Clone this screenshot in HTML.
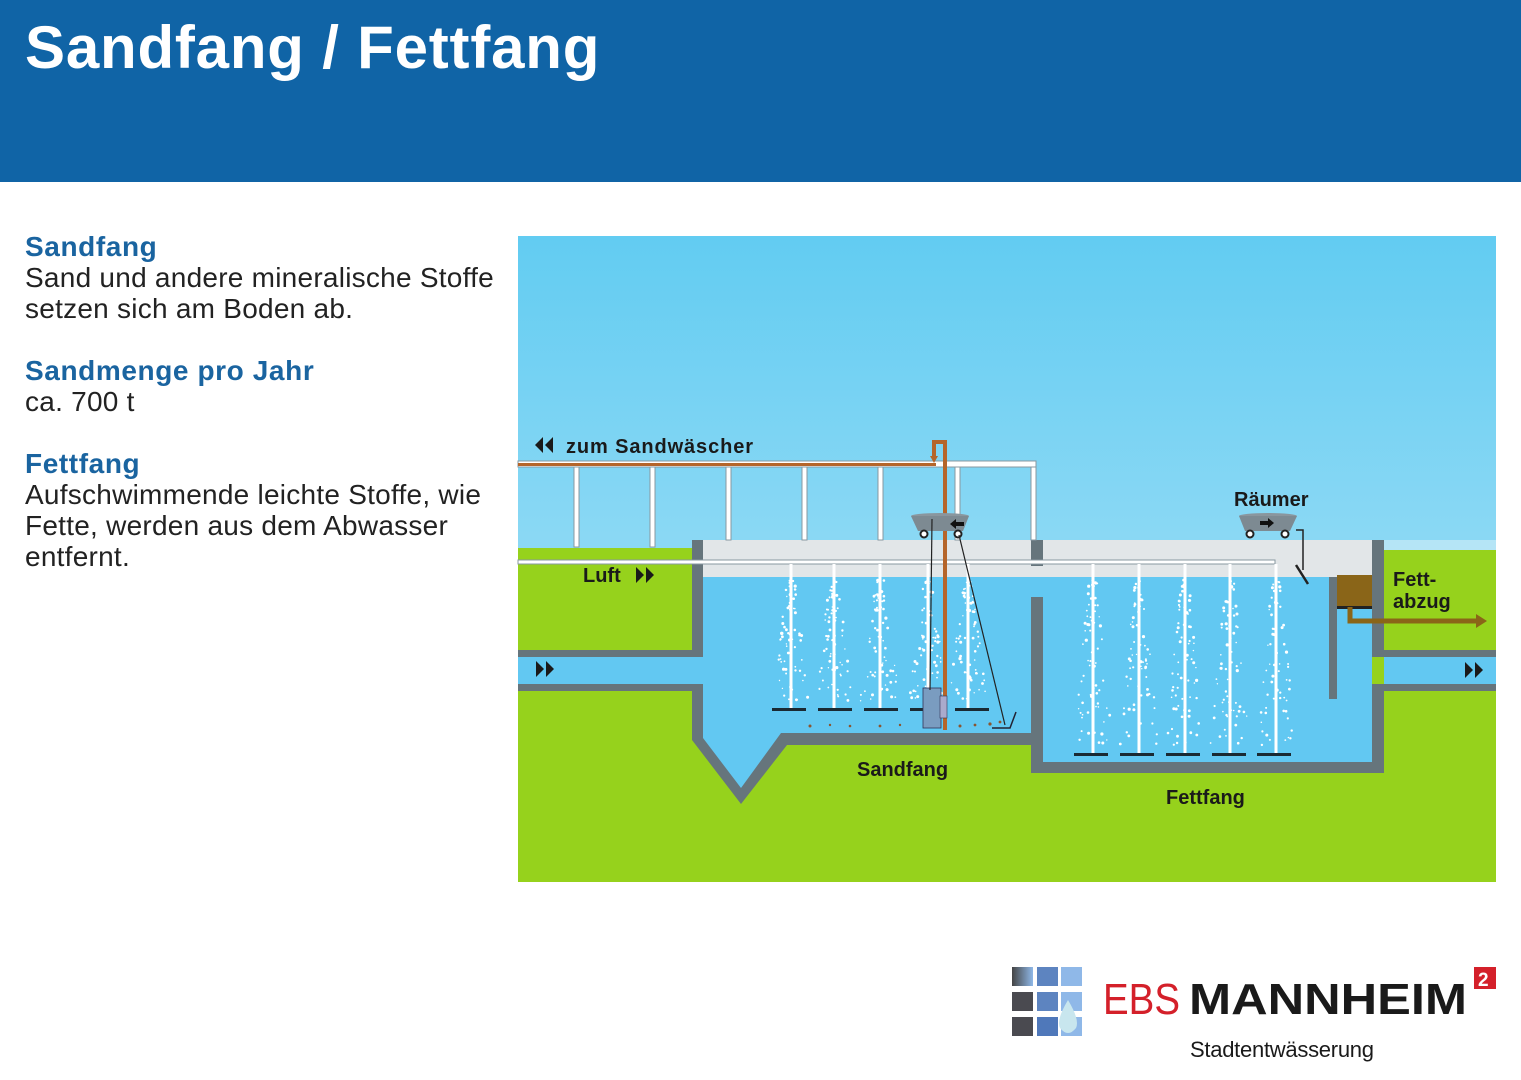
<!DOCTYPE html>
<html><head><meta charset="utf-8"><style>
html,body{margin:0;padding:0;width:1521px;height:1080px;overflow:hidden;background:#fff;font-family:"Liberation Sans",sans-serif}
#hdr{position:absolute;left:0;top:0;width:1521px;height:182px;background:#1064a6}
#hdr h1{position:absolute;left:25px;top:13px;margin:0;color:#fff;font-size:60px;font-weight:bold;letter-spacing:0.8px}
#txt{position:absolute;left:25px;top:231px;font-size:28px;line-height:31px;color:#222;letter-spacing:0.25px}
#txt b{color:#1a64a0;font-size:28px;letter-spacing:0.6px}
#dia{position:absolute;left:0;top:0}
</style></head><body>
<div id="hdr"><h1>Sandfang / Fettfang</h1></div>
<div id="txt"><b>Sandfang</b><br>Sand und andere mineralische Stoffe<br>setzen sich am Boden ab.<br><br><b>Sandmenge pro Jahr</b><br>ca. 700 t<br><br><b>Fettfang</b><br>Aufschwimmende leichte Stoffe, wie<br>Fette, werden aus dem Abwasser<br>entfernt.</div>
<svg id="dia" width="1521" height="1080" xmlns="http://www.w3.org/2000/svg" font-family="Liberation Sans, sans-serif">
<defs><linearGradient id="sky" x1="0" y1="0" x2="0" y2="1"><stop offset="0" stop-color="#62ccf2"/><stop offset="1" stop-color="#b8e6f6"/></linearGradient>
<linearGradient id="lg" x1="0" y1="0" x2="1" y2="0"><stop offset="0" stop-color="#444"/><stop offset="1" stop-color="#8fb8e8"/></linearGradient></defs>
<rect x="518" y="236" width="978" height="646" fill="url(#sky)"/>
<rect x="518" y="548" width="978" height="334" fill="#96d21c"/>
<rect x="1384" y="540" width="112" height="10" fill="#b5e5f6"/>
<polygon points="703,577 1372,577 1372,762 1043,762 1043,733 787,733 741,790 703,740" fill="#62c8f2"/>
<rect x="703" y="540" width="669" height="37" fill="#e2e6e8"/>
<rect x="518" y="656" width="185" height="29" fill="#62c8f2"/>
<rect x="1384" y="656" width="112" height="29" fill="#62c8f2"/>
<g fill="#66757c">
<rect x="518" y="650" width="185" height="7"/><rect x="518" y="684" width="185" height="7"/>
<rect x="692" y="540" width="11" height="117"/>
<polygon points="692,684 703,684 703,738 741,788 781,733 1043,733 1043,745 787,745 741,804 692,740"/>
<rect x="1031" y="597" width="12" height="176"/><rect x="1031" y="540" width="12" height="26"/>
<rect x="1031" y="762" width="353" height="11"/>
<rect x="1372" y="540" width="12" height="117"/><rect x="1372" y="684" width="12" height="89"/>
<rect x="1384" y="650" width="112" height="7"/><rect x="1384" y="684" width="112" height="7"/>
<rect x="1329" y="577" width="8" height="122"/>
</g>
<rect x="1337" y="575" width="35" height="32" fill="#8a6518"/>
<rect x="1337" y="606" width="35" height="3" fill="#222"/>
<polyline points="1350,607 1350,621 1478,621" fill="none" stroke="#8a6518" stroke-width="5"/>
<polygon points="1476,614 1487,621 1476,628" fill="#8a6518"/>
<g fill="#fff" stroke="#8898a0" stroke-width="1">
<rect x="518" y="461" width="518" height="6"/>
<rect x="574" y="467" width="5" height="80"/><rect x="650" y="467" width="5" height="80"/><rect x="726" y="467" width="5" height="73"/><rect x="802" y="467" width="5" height="73"/><rect x="878" y="467" width="5" height="73"/><rect x="955" y="467" width="5" height="73"/><rect x="1031" y="467" width="5" height="73"/>
<rect x="518" y="560" width="757" height="4"/>
</g>
<g stroke="#fff" stroke-width="3">
<line x1="791" y1="564" x2="791" y2="710"/><line x1="834" y1="564" x2="834" y2="710"/><line x1="880" y1="564" x2="880" y2="710"/><line x1="928" y1="564" x2="928" y2="710"/><line x1="968" y1="564" x2="968" y2="710"/>
<line x1="1093" y1="564" x2="1093" y2="755"/><line x1="1139" y1="564" x2="1139" y2="755"/><line x1="1185" y1="564" x2="1185" y2="755"/><line x1="1230" y1="564" x2="1230" y2="755"/><line x1="1276" y1="564" x2="1276" y2="755"/>
</g>
<g id="bub" fill="#fff"></g>
<g fill="#1a2a33">
<rect x="772" y="708" width="34" height="3"/><rect x="818" y="708" width="34" height="3"/><rect x="864" y="708" width="34" height="3"/><rect x="910" y="708" width="34" height="3"/><rect x="955" y="708" width="34" height="3"/>
<rect x="1074" y="753" width="34" height="3"/><rect x="1120" y="753" width="34" height="3"/><rect x="1166" y="753" width="34" height="3"/><rect x="1212" y="753" width="34" height="3"/><rect x="1257" y="753" width="34" height="3"/>
</g>
<rect x="518" y="463" width="418" height="3" fill="#b5652a"/>
<polyline points="945,730 945,442 934,442 934,458" fill="none" stroke="#b5652a" stroke-width="4"/>
<polygon points="930,456 934,463 938,456" fill="#b5652a"/>
<rect x="923" y="688" width="18" height="40" fill="#7a9cc0" stroke="#335" stroke-width="0.8"/>
<rect x="940" y="696" width="7" height="22" fill="#aac" stroke="#335" stroke-width="0.6"/>
<g><ellipse cx="940" cy="516" rx="29" ry="3" fill="#8a969e"/><path d="M911,516 L969,516 L963,531 L918,531 Z" fill="#7d8a92"/><circle cx="924" cy="534" r="3.5" fill="#fff" stroke="#222" stroke-width="2"/><circle cx="958" cy="534" r="3.5" fill="#fff" stroke="#222" stroke-width="2"/><path d="M964,522 h-8 v-3 l-6,5 6,5 v-3 h8z" fill="#111"/></g>
<line x1="932" y1="519" x2="930" y2="690" stroke="#222" stroke-width="1.2"/>
<line x1="959" y1="535" x2="1005" y2="725" stroke="#222" stroke-width="1.2"/>
<polyline points="992,728 1010,728 1016,712" fill="none" stroke="#223" stroke-width="1.5"/>
<g fill="#8a5530"><circle cx="810" cy="726" r="1.5"/><circle cx="830" cy="725" r="1.2"/><circle cx="850" cy="726" r="1.3"/><circle cx="880" cy="726" r="1.4"/><circle cx="900" cy="725" r="1.2"/><circle cx="960" cy="726" r="1.5"/><circle cx="975" cy="725" r="1.4"/><circle cx="990" cy="724" r="1.6"/><circle cx="1000" cy="722" r="1.4"/></g>
<g><ellipse cx="1268" cy="516" rx="29" ry="3" fill="#8a969e"/><path d="M1239,516 L1297,516 L1290,531 L1245,531 Z" fill="#7d8a92"/><circle cx="1250" cy="534" r="3.5" fill="#fff" stroke="#222" stroke-width="2"/><circle cx="1285" cy="534" r="3.5" fill="#fff" stroke="#222" stroke-width="2"/><path d="M1260,521 h8 v-3 l6,5 -6,5 v-3 h-8z" fill="#111"/></g>
<polyline points="1296,530 1303,530 1303,570" fill="none" stroke="#222" stroke-width="1.5"/>
<line x1="1296" y1="565" x2="1308" y2="584" stroke="#222" stroke-width="2.5"/>
<g font-weight="bold" fill="#1a1a1a" font-size="20">
<text x="566" y="453" textLength="187">zum Sandwäscher</text>
<text x="583" y="582">Luft</text>
<text x="857" y="776">Sandfang</text>
<text x="1166" y="804">Fettfang</text>
<text x="1234" y="506">Räumer</text>
<text x="1393" y="586">Fett-</text><text x="1393" y="608">abzug</text>
</g>
<g fill="#1a1a1a">
<polygon points="543,437 535,445 543,453"/><polygon points="553,437 545,445 553,453"/>
<polygon points="636,567 644,575 636,583"/><polygon points="646,567 654,575 646,583"/>
<polygon points="536,661 544,669 536,677"/><polygon points="546,661 554,669 546,677"/>
<polygon points="1465,662 1473,670 1465,678"/><polygon points="1475,662 1483,670 1475,678"/>
</g>
<g>
<rect x="1012" y="967" width="21" height="19" fill="url(#lg)"/><rect x="1037" y="967" width="21" height="19" fill="#5d84c0"/><rect x="1061" y="967" width="21" height="19" fill="#8fb8e8"/>
<rect x="1012" y="992" width="21" height="19" fill="#4a4a50"/><rect x="1037" y="992" width="21" height="19" fill="#5d84c0"/><rect x="1061" y="992" width="21" height="19" fill="#8fb8e8"/>
<rect x="1012" y="1017" width="21" height="19" fill="#4a4a50"/><rect x="1037" y="1017" width="21" height="19" fill="#4f78ba"/><rect x="1061" y="1017" width="21" height="19" fill="#8fb8e8"/>
<path d="M1068,1000 Q1056,1020 1060,1028 Q1068,1038 1076,1028 Q1080,1020 1068,1000Z" fill="#c8e6ee"/>
<text x="1103" y="1014" font-size="44" fill="#d4202a" textLength="77" lengthAdjust="spacingAndGlyphs">EBS</text>
<text x="1189" y="1014" font-size="44" font-weight="bold" fill="#1a1a1a" textLength="278" lengthAdjust="spacingAndGlyphs">MANNHEIM</text>
<rect x="1474" y="967" width="22" height="22" fill="#d4202a"/><text x="1478" y="986" font-size="19" font-weight="bold" fill="#fff">2</text>
<text x="1190" y="1057" font-size="22" fill="#1a1a1a" textLength="184">Stadtentwässerung</text>
</g>
</svg>
<script>
var g=document.getElementById('bub'),s=7,out='';
function r(){s=(s*9301+49297)%233280;return s/233280;}
var xs=[791,834,880,928,968],ys=[1093,1139,1185,1230,1276];
function drop(cx,bot){for(var i=0;i<70;i++){var t=r();var y=580+t*(bot-585);var w=4+t*16;var x=cx+(r()*2-1)*w;out+='<circle cx="'+x.toFixed(1)+'" cy="'+y.toFixed(1)+'" r="'+(0.7+r()*0.9).toFixed(1)+'"/>';}}
xs.forEach(function(x){drop(x,706)});ys.forEach(function(x){drop(x,750)});
g.innerHTML=out;
</script>
</body></html>
